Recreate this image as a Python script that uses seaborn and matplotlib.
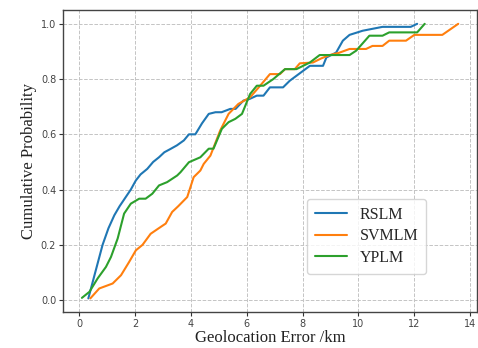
import matplotlib
matplotlib.use("Agg")
import matplotlib.pyplot as plt
import seaborn as sns
import pandas as pd

# --- Data ---
rslm_x = [0.33, 0.55, 0.84, 1.05, 1.26, 1.45, 1.67, 1.85, 2.03, 2.2, 2.44, 2.65, 2.86, 3.05,
          3.27, 3.5, 3.75, 3.93, 4.16, 4.4, 4.64, 4.88, 5.1, 5.41, 5.6, 5.88, 6.1, 6.36, 6.6,
          6.83, 7.3, 7.54, 8.02, 8.26, 8.73, 8.85, 9.2, 9.44, 9.68, 10.15, 10.86, 11.87, 12.1]
rslm_y = [0.006, 0.09, 0.2, 0.26, 0.307, 0.34, 0.373, 0.4, 0.433, 0.455, 0.475, 0.5, 0.517, 0.535,
          0.547, 0.56, 0.578, 0.60, 0.60, 0.64, 0.674, 0.68, 0.68, 0.692, 0.692, 0.722, 0.728, 0.74, 0.74,
          0.77, 0.77, 0.794, 0.83, 0.848, 0.848, 0.878, 0.896, 0.939, 0.96, 0.975, 0.989, 0.989, 1.0]

svmlm_x = [0.4, 0.72, 1.2, 1.5, 1.79, 2.03, 2.27, 2.56, 2.85, 3.1, 3.33, 3.55, 3.87, 4.1, 4.34,
           4.46, 4.7, 5.05, 5.35, 5.7, 6.12, 6.48, 6.83, 7.19, 7.37, 7.72, 7.9, 8.37, 8.67, 8.97,
           9.3, 9.68, 10.27, 10.5, 10.86, 11.1, 11.7, 12.0, 13.0, 13.57]
svmlm_y = [0.006, 0.042, 0.06, 0.09, 0.138, 0.18, 0.2, 0.24, 0.26, 0.277, 0.319, 0.34, 0.373, 0.445, 0.469,
           0.493, 0.523, 0.614, 0.674, 0.71, 0.734, 0.776, 0.818, 0.818, 0.836, 0.836, 0.857, 0.86, 0.875, 0.887,
           0.895, 0.909, 0.909, 0.92, 0.92, 0.939, 0.939, 0.96, 0.96, 1.0]

yplm_x = [0.1, 0.37, 0.66, 0.96, 1.14, 1.38, 1.61, 1.85, 2.15, 2.38, 2.62, 2.86, 3.15, 3.51, 3.63,
          3.93, 4.34, 4.64, 4.81, 5.11, 5.35, 5.59, 5.83, 6.12, 6.36, 6.6, 6.95, 7.37, 7.78, 8.26,
          8.61, 9.68, 9.92, 10.39, 10.86, 11.1, 12.1, 12.37]
yplm_y = [0.008, 0.03, 0.078, 0.12, 0.156, 0.223, 0.313, 0.349, 0.367, 0.367, 0.385, 0.415, 0.427, 0.451, 0.463,
          0.499, 0.517, 0.548, 0.548, 0.62, 0.644, 0.656, 0.674, 0.746, 0.776, 0.776, 0.8, 0.836, 0.836, 0.86,
          0.887, 0.887, 0.903, 0.957, 0.957, 0.969, 0.969, 1.0]

methods = ['RSLM', 'SVMLM', 'YPLM']

df = pd.concat([
    pd.DataFrame({'x': rslm_x, 'y': rslm_y, 'Method': 'RSLM'}),
    pd.DataFrame({'x': svmlm_x, 'y': svmlm_y, 'Method': 'SVMLM'}),
    pd.DataFrame({'x': yplm_x, 'y': yplm_y, 'Method': 'YPLM'}),
], ignore_index=True)

# --- Plot ---
sns.set_style("ticks")
fig = plt.figure(figsize=(4.78, 3.48), dpi=100)
ax = fig.add_axes([0.132, 0.103, 0.866, 0.868])

sns.lineplot(data=df, x='x', y='y', hue='Method', hue_order=methods,
             palette=sns.color_palette("tab10", 3), estimator=None, sort=False,
             linewidth=1.5, ax=ax)

ax.grid(True, linestyle='--', color='#c4c4c4', linewidth=0.7)
ax.set_xticks(range(0, 15, 2))
ax.set_yticks([0.0, 0.2, 0.4, 0.6, 0.8, 1.0])
ax.set_yticklabels([f'{v:.1f}' for v in [0.0, 0.2, 0.4, 0.6, 0.8, 1.0]])
ax.tick_params(labelsize=7, labelcolor='#444444', color='#333333', length=3, width=0.8, pad=2)
for s in ax.spines.values():
    s.set_color('#444444')
    s.set_linewidth(1.0)

ax.set_xlabel('Geolocation Error /km', fontsize=12, family='Liberation Serif',
              color='#222222', labelpad=1)
ax.set_ylabel('Cumulative Probability', fontsize=12, family='Liberation Serif',
              color='#222222', labelpad=3)

ax.legend(loc='lower left', bbox_to_anchor=(0.57, 0.10), frameon=True,
          prop={'family': 'Liberation Serif', 'size': 11.5}, labelspacing=0.35,
          borderpad=0.5, handlelength=2.0, fancybox=True)

fig.savefig('out.png', dpi=100)
